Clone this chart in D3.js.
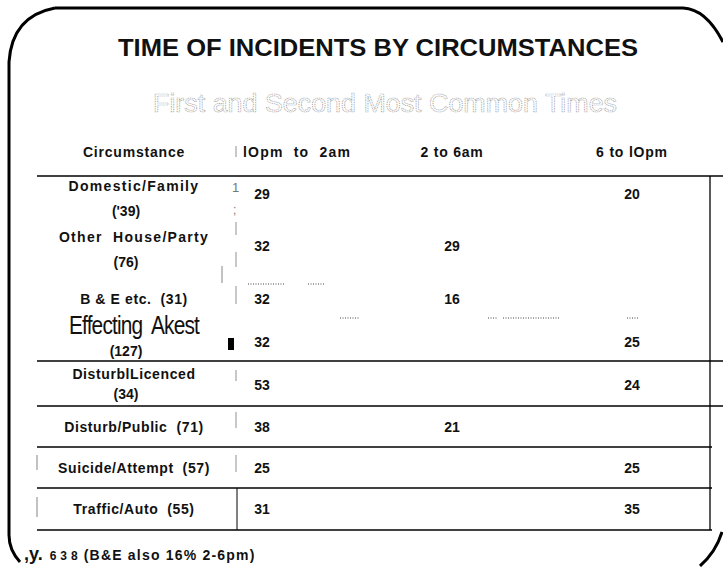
<!DOCTYPE html>
<html lang="en">
<head>
    <meta charset="UTF-8">
    <title>Time of incidents by circumstances</title>
    <script src="https://d3js.org/d3.v7.min.js"></script>
    <style>
        body { margin: 0; background: #fff; }
        text { font-family: "Liberation Sans", Arial, sans-serif; fill: #111; }
    </style>
</head>
<body>

<div id="my_dataviz"></div>

<script>
    // table content
    var circumstances = ["Domestic/Family", "Other  House/Party", "B & E etc.", "Effecting  Akest",
                         "DisturblLicenced", "Disturb/Public", "Suicide/Attempt", "Traffic/Auto"]
    var counts = ["('39)", "(76)", "(31)", "(127)", "(34)", "(71)", "(57)", "(55)"]
    var twoLine = [true, true, false, true, true, false, false, false]
    var periods = ["lOpm  to  2am", "2 to 6am", "6 to lOpm"]
    var late = [29, 32, 32, 32, 53, 38, 25, 31]          // 10pm to 2am
    var early = [null, 29, 16, null, null, 21, null, null] // 2 to 6am
    var evening = [20, null, null, 25, 24, null, 25, 35]   // 6 to 10pm
    var footer = "638"

    var width = 723, height = 567

    var svg = d3.select("#my_dataviz").append("svg")
        .attr("width", width)
        .attr("height", height)

    // column positions
    var x = d3.scaleOrdinal()
        .domain(["label"].concat(periods))
        .range([134, 243, 452, 632])
    var xVal = d3.scaleOrdinal()
        .domain(periods)
        .range([262, 452, 632])

    // row positions (rows are uneven in the original)
    var yRow = d3.scaleOrdinal()
        .domain(circumstances)
        .range([194, 246, 299, 342, 385, 427, 468, 509])
    var yName = d3.scaleOrdinal()
        .domain(circumstances)
        .range([186, 237, 299, 329, 374, 427, 468, 509])
    var yCount = d3.scaleOrdinal()
        .domain(circumstances)
        .range([211, 262, 299, 351, 394, 427, 468, 509])

    // rounded frame, only partly visible in the scan
    svg.append("path")
        .attr("d", "M55,8 L683,8 Q706,9 723,42 M55,8 Q12,16 9,62 L9,535 Q9,550 20,562 M700,566 Q716,552 722,532")
        .attr("fill", "none")
        .attr("stroke", "#000")
        .attr("stroke-width", 3)

    // title and subtitle
    svg.append("text")
        .attr("x", 378).attr("y", 56)
        .attr("text-anchor", "middle")
        .attr("textLength", 520)
        .attr("lengthAdjust", "spacingAndGlyphs")
        .attr("font-size", 24)
        .attr("font-weight", "bold")
        .text("TIME OF INCIDENTS BY CIRCUMSTANCES")

    svg.append("text")
        .attr("x", 385).attr("y", 112)
        .attr("text-anchor", "middle")
        .attr("textLength", 464)
        .attr("lengthAdjust", "spacingAndGlyphs")
        .attr("font-size", 25)
        .style("fill", "#fff")
        .attr("stroke", "#999")
        .attr("stroke-width", 0.7)
        .attr("stroke-dasharray", "1,0.7")
        .text("First and Second Most Common Times")

    // table rules
    var rules = [176, 361, 406, 447, 488, 530]
    svg.selectAll(".rule").data(rules).enter().append("line")
        .attr("x1", 37).attr("x2", function(d, i) { return i < 3 ? 723 : 712 })
        .attr("y1", function(d) { return d }).attr("y2", function(d) { return d })
        .attr("stroke", "#000").attr("stroke-width", 1.6)
    svg.append("line")
        .attr("x1", 710).attr("x2", 710).attr("y1", 176).attr("y2", 530)
        .attr("stroke", "#000").attr("stroke-width", 1.3)
    svg.append("line")
        .attr("x1", 237).attr("x2", 237).attr("y1", 488).attr("y2", 530)
        .attr("stroke", "#000").attr("stroke-width", 1)

    // faint separator fragments between label column and values
    var sepSegs = [[146, 157], [222, 235], [252, 267], [286, 304], [370, 381], [412, 428], [455, 472]]
    svg.selectAll(".sep").data(sepSegs).enter().append("line")
        .attr("x1", 236).attr("x2", 236)
        .attr("y1", function(d) { return d[0] }).attr("y2", function(d) { return d[1] })
        .attr("stroke", "#aaa").attr("stroke-width", 1.3)
    svg.selectAll(".lsep").data([[455, 470], [497, 517]]).enter().append("line")
        .attr("x1", 37).attr("x2", 37)
        .attr("y1", function(d) { return d[0] }).attr("y2", function(d) { return d[1] })
        .attr("stroke", "#999").attr("stroke-width", 1.2)
    svg.append("line").attr("x1", 222).attr("x2", 222).attr("y1", 266).attr("y2", 283)
        .attr("stroke", "#999").attr("stroke-width", 1.2)
    svg.append("text").attr("x", 232).attr("y", 192).attr("font-size", 13).style("fill", "#777").text("1")
    svg.append("text").attr("x", 233).attr("y", 214).attr("font-size", 12).style("fill", "#777").text(";")
    svg.append("rect").attr("x", 228).attr("y", 338).attr("width", 6).attr("height", 12).attr("fill", "#000")

    // dotted scan noise
    var dots = [[248, 285, 284], [308, 325, 284], [340, 360, 318], [488, 497, 318], [503, 560, 318], [627, 639, 318]]
    svg.selectAll(".dots").data(dots).enter().append("line")
        .attr("x1", function(d) { return d[0] }).attr("x2", function(d) { return d[1] })
        .attr("y1", function(d) { return d[2] }).attr("y2", function(d) { return d[2] })
        .attr("stroke", "#444").attr("stroke-width", 1.2).attr("stroke-dasharray", "1,1.5")

    // header row
    svg.append("text")
        .attr("x", x("label")).attr("y", 157)
        .attr("text-anchor", "middle").attr("font-size", 14).attr("font-weight", "bold")
        .attr("letter-spacing", 0.8)
        .text("Circumstance")
    svg.selectAll(".head").data(periods).enter().append("text")
        .attr("x", function(d) { return x(d) })
        .attr("y", 157)
        .attr("text-anchor", function(d, i) { return i === 0 ? "start" : "middle" })
        .attr("font-size", 14).attr("font-weight", "bold")
        .attr("letter-spacing", function(d, i) { return i === 0 ? 1.2 : 0.8 })
        .style("white-space", "pre")
        .text(function(d) { return d })

    // circumstance labels
    var rows = circumstances.map(function(c, i) {
        return {name: c, count: counts[i], two: twoLine[i]}
    })
    svg.selectAll(".name").data(rows).enter().append("text")
        .attr("x", x("label"))
        .attr("y", function(d) { return yName(d.name) + 5 })
        .attr("text-anchor", "middle")
        .attr("font-size", function(d, i) { return i === 3 ? 25 : 14 })
        .attr("font-weight", function(d, i) { return i === 3 ? "normal" : "bold" })
        .attr("letter-spacing", function(d, i) { return i === 3 ? -1 : (i < 2 ? 1.3 : 0.6) })
        .attr("textLength", function(d, i) { return i === 3 ? 130 : null })
        .attr("lengthAdjust", "spacingAndGlyphs")
        .style("white-space", "pre")
        .text(function(d) { return d.two ? d.name : d.name + "  " + d.count })
    svg.selectAll(".count").data(rows.filter(function(d) { return d.two })).enter().append("text")
        .attr("x", x("label") - 8)
        .attr("y", function(d) { return yCount(d.name) + 5 })
        .attr("text-anchor", "middle")
        .attr("font-size", 14).attr("font-weight", "bold")
        .text(function(d) { return d.count })

    // values
    var series = [late, early, evening]
    periods.forEach(function(p, j) {
        var cells = circumstances.map(function(c, i) { return {c: c, v: series[j][i]} })
            .filter(function(d) { return d.v !== null })
        svg.selectAll(".v" + j).data(cells).enter().append("text")
            .attr("x", xVal(p))
            .attr("y", function(d) { return yRow(d.c) + 5 })
            .attr("text-anchor", "middle")
            .attr("font-size", 14).attr("font-weight", "bold")
            .text(function(d) { return d.v })
    })

    // footnote
    var foot = svg.append("text").attr("x", 24).attr("y", 560).attr("font-weight", "bold")
    foot.append("tspan").attr("font-size", 18).text(",y.")
    foot.append("tspan").attr("dx", 7).attr("font-size", 12).attr("letter-spacing", 4).text(footer)
    foot.append("tspan").attr("dx", 2).attr("font-size", 14).attr("letter-spacing", 1.2).text("(B&E also 16% 2-6pm)")

</script>

</body>
</html>
